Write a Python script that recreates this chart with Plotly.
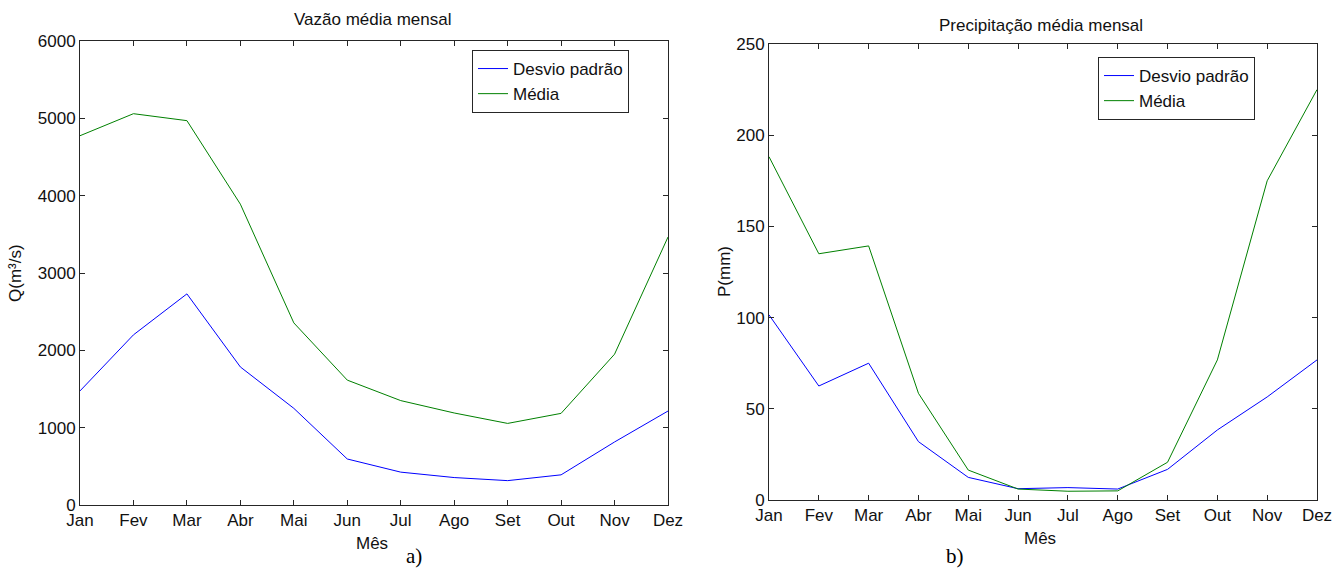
import plotly.graph_objects as go

months = ["Jan", "Fev", "Mar", "Abr", "Mai", "Jun", "Jul", "Ago", "Set", "Out", "Nov", "Dez"]

# a) Vazão média mensal (m³/s)
q_desvio = [1475, 2200, 2730, 1785, 1250, 595, 425, 355, 315, 390, 815, 1215]
q_media = [4775, 5060, 4970, 3890, 2355, 1615, 1350, 1190, 1055, 1185, 1950, 3465]

# b) Precipitação média mensal (mm)
p_desvio = [101.5, 62.5, 75, 32, 12.4, 6.2, 6.8, 6.0, 16.8, 38.4, 56.5, 76.8]
p_media = [188.2, 135, 139.3, 58.5, 16.4, 6.0, 4.8, 5.0, 20.7, 76.8, 175, 225]

BLUE = "#0000FF"
GREEN = "#008000"
FONT = "Liberation Sans, Arial, sans-serif"
TXT = "#111111"
FS = 17

month_idx = list(range(len(months)))

fig = go.Figure()
fig.add_trace(go.Scatter(x=month_idx, y=q_desvio, mode="lines", name="Desvio padrão",
                         line=dict(color=BLUE, width=1), xaxis="x", yaxis="y", legend="legend"))
fig.add_trace(go.Scatter(x=month_idx, y=q_media, mode="lines", name="Média",
                         line=dict(color=GREEN, width=1), xaxis="x", yaxis="y", legend="legend"))
fig.add_trace(go.Scatter(x=month_idx, y=p_desvio, mode="lines", name="Desvio padrão",
                         line=dict(color=BLUE, width=1), xaxis="x2", yaxis="y2", legend="legend2"))
fig.add_trace(go.Scatter(x=month_idx, y=p_media, mode="lines", name="Média",
                         line=dict(color=GREEN, width=1), xaxis="x2", yaxis="y2", legend="legend2"))

W, H = 1343, 580

def px(x):
    return x / W

def py(y):
    return 1 - y / H

axis_common = dict(showline=True, linecolor="#262626", linewidth=1, mirror="allticks",
                   ticks="inside", ticklen=5, tickcolor="#262626", showgrid=False, zeroline=False,
                   automargin=False,
                   tickfont=dict(family=FONT, size=FS, color=TXT))

fig.update_layout(
    width=W, height=H, autosize=False,
    margin=dict(l=0, r=0, t=0, b=0, pad=0, autoexpand=False),
    paper_bgcolor="white", plot_bgcolor="white",
    font=dict(family=FONT, size=FS, color=TXT),
    xaxis=dict(domain=[px(80), px(668)], anchor="y", range=[0, 11], tickmode="array",
               tickvals=month_idx, ticktext=months, **axis_common),
    yaxis=dict(domain=[py(505), py(41)], anchor="x", range=[0, 6000], dtick=1000, **axis_common),
    xaxis2=dict(domain=[px(769), px(1317)], anchor="y2", range=[0, 11], tickmode="array",
                tickvals=month_idx, ticktext=months, **axis_common),
    yaxis2=dict(domain=[py(500), py(44)], anchor="x2", range=[0, 250], dtick=50, **axis_common),
    legend=dict(x=px(472), y=py(50), xanchor="left", yanchor="top",
                bordercolor="#262626", borderwidth=1, bgcolor="white",
                font=dict(family=FONT, size=FS, color=TXT), tracegroupgap=0),
    legend2=dict(x=px(1098), y=py(57), xanchor="left", yanchor="top",
                 bordercolor="#262626", borderwidth=1, bgcolor="white",
                 font=dict(family=FONT, size=FS, color=TXT), tracegroupgap=0),
)

annotations = [
    dict(text="Vazão média mensal", x=px(373), y=py(20)),
    dict(text="Precipitação média mensal", x=px(1041), y=py(25)),
    dict(text="Mês", x=px(372), y=py(543)),
    dict(text="Mês", x=px(1040), y=py(538)),
    dict(text="Q(m³/s)", x=px(15), y=py(273), textangle=-90),
    dict(text="P(mm)", x=px(724), y=py(272), textangle=-90),
]
for a in annotations:
    a.update(xref="paper", yref="paper", showarrow=False, xanchor="center", yanchor="middle",
             font=dict(family=FONT, size=FS, color=TXT))
annotations += [
    dict(text="a)", x=px(404), y=py(570), xref="paper", yref="paper", showarrow=False,
         font=dict(family="Liberation Serif, Times New Roman, serif", size=21, color="black")),
    dict(text="b)", x=px(966), y=py(570), xref="paper", yref="paper", showarrow=False,
         font=dict(family="Liberation Serif, Times New Roman, serif", size=21, color="black")),
]
fig.update_layout(annotations=annotations)

fig.write_html("out.html")
